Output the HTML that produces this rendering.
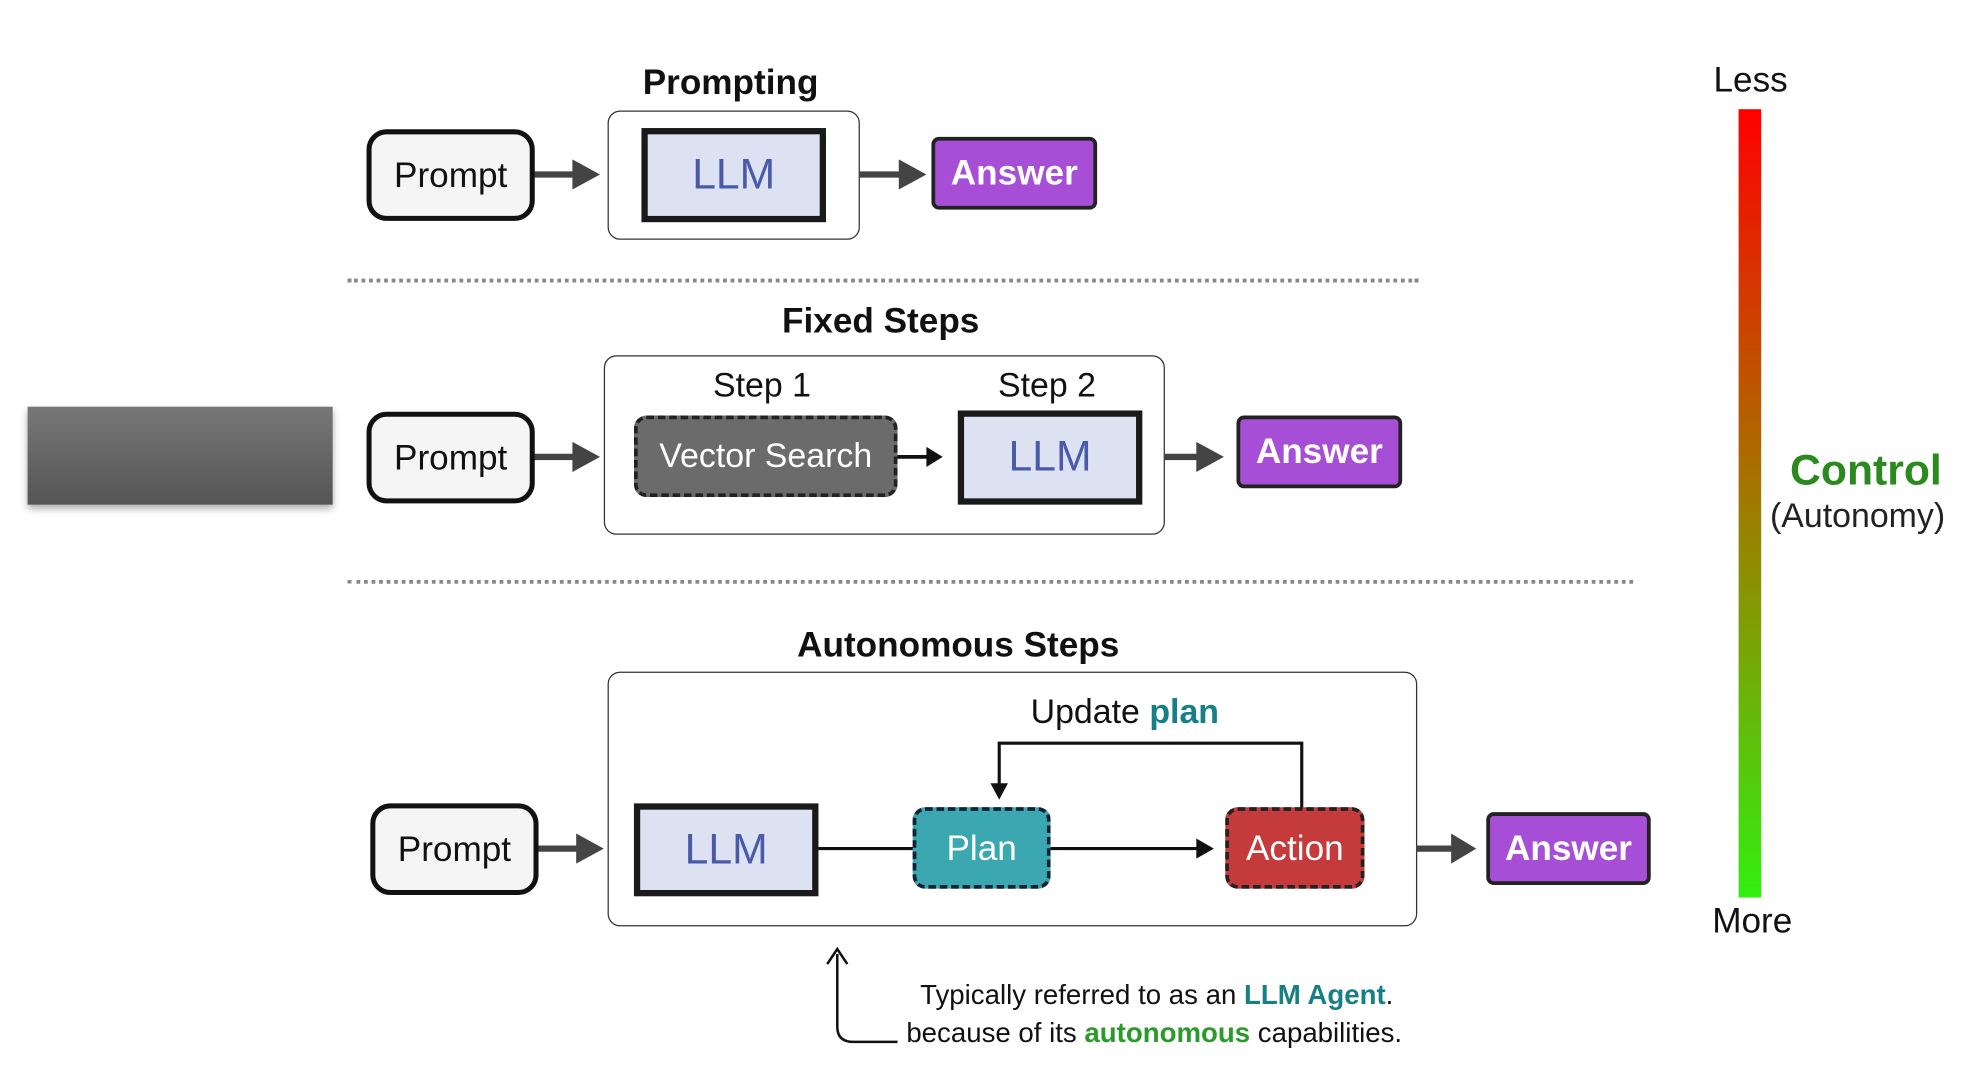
<!DOCTYPE html>
<html><head><meta charset="utf-8"><style>
html,body{margin:0;padding:0;background:#fff;width:1967px;height:1080px;overflow:hidden}
#c{position:absolute;left:0;top:0;width:1567px;height:860px;transform:scale(1.2553);transform-origin:0 0;font-family:"Liberation Sans",sans-serif}
.a{position:absolute;box-sizing:border-box;display:flex;align-items:center;justify-content:center}
.prompt{border:4px solid #111;border-radius:16px;background:#f5f5f5;font-size:28px;color:#111}
.llm{border:5px solid #1a1a1a;background:#dde2f3;color:#4a5aa8;font-size:34px}
.ans{border:3px solid #222;border-radius:6px;background:#a64fd6;color:#fff;font-weight:bold;font-size:28px}
.grp{border:1.5px solid #333;border-radius:10px;background:#fff;z-index:-1}
.t{position:absolute;white-space:nowrap;color:#111}
.dash{position:absolute;border-top:3px dotted #888;height:0}
</style></head><body><div id="c">
<svg width="1567" height="860" style="position:absolute;left:0;top:0">
<g stroke="#444" stroke-width="5" fill="none">
<line x1="425" y1="139" x2="458" y2="139"/><line x1="685" y1="139" x2="718" y2="139"/>
<line x1="425" y1="364" x2="458" y2="364"/><line x1="928" y1="364" x2="955" y2="364"/>
<line x1="428" y1="676" x2="461" y2="676"/><line x1="1128" y1="676" x2="1158" y2="676"/>
</g>
<g fill="#444">
<path d="M456,127 L478,139 L456,151z"/><path d="M716,127 L738,139 L716,151z"/>
<path d="M456,352 L478,364 L456,376z"/><path d="M953,352 L975,364 L953,376z"/>
<path d="M459,664 L481,676 L459,688z"/><path d="M1156,664 L1176,676 L1156,688z"/>
</g>
<line x1="714" y1="364" x2="740" y2="364" stroke="#111" stroke-width="3"/><path d="M738,356 L751,364 L738,372z" fill="#111"/>
<line x1="650" y1="676" x2="730" y2="676" stroke="#111" stroke-width="2.5"/>
<line x1="836" y1="676" x2="955" y2="676" stroke="#111" stroke-width="2.5"/><path d="M953,668 L967,676 L953,684z" fill="#111"/>
<polyline points="1037,644 1037,592 796,592 796,628" fill="none" stroke="#111" stroke-width="2.5"/><path d="M789,624 L796,637 L803,624z" fill="#111"/>
<path d="M667,760 L667,818 Q667,830 680,830 L715,830" fill="none" stroke="#111" stroke-width="2"/>
<path d="M659,768 L667,756 L675,768" fill="none" stroke="#111" stroke-width="2"/>
<defs><linearGradient id="g" x1="0" y1="0" x2="0" y2="1"><stop offset="0" stop-color="#ff0000"/><stop offset="0.5" stop-color="#a07a00"/><stop offset="1" stop-color="#33ee11"/></linearGradient>
<linearGradient id="gr" x1="0" y1="0" x2="0" y2="1"><stop offset="0" stop-color="#777"/><stop offset="1" stop-color="#555"/></linearGradient></defs>
<rect x="1385" y="87" width="18" height="628" fill="url(#g)"/>
<rect x="22" y="324" width="243" height="78" fill="url(#gr)" style="filter:drop-shadow(0 3px 3px rgba(0,0,0,.35))"/>
</svg>
<div class="dash" style="left:277px;top:222px;width:853px"></div>
<div class="dash" style="left:277px;top:462px;width:1024px"></div>
<div class="t" style="left:512px;top:50px;font-size:28px;font-weight:bold">Prompting</div>
<div class="a grp" style="left:484px;top:88px;width:201px;height:103px"></div>
<div class="a prompt" style="left:292px;top:103px;width:134px;height:73px">Prompt</div>
<div class="a llm" style="left:511px;top:102px;width:147px;height:75px">LLM</div>
<div class="a ans" style="left:742px;top:109px;width:132px;height:58px">Answer</div>
<div class="t" style="left:623px;top:240px;font-size:28px;font-weight:bold">Fixed Steps</div>
<div class="a grp" style="left:481px;top:283px;width:447px;height:143px"></div>
<div class="t" style="left:568px;top:292px;font-size:27px">Step 1</div>
<div class="t" style="left:795px;top:292px;font-size:27px">Step 2</div>
<div class="a prompt" style="left:292px;top:328px;width:134px;height:73px">Prompt</div>
<div class="a" style="left:505px;top:331px;width:210px;height:65px;border:3px dashed #222;border-radius:10px;background:#6b6b6b;color:#fff;font-size:27px">Vector Search</div>
<div class="a llm" style="left:763px;top:327px;width:147px;height:75px">LLM</div>
<div class="a ans" style="left:985px;top:331px;width:132px;height:58px">Answer</div>
<div class="t" style="left:635px;top:498px;font-size:28px;font-weight:bold">Autonomous Steps</div>
<div class="a grp" style="left:484px;top:535px;width:645px;height:203px"></div>
<div class="t" style="left:821px;top:552px;font-size:27px">Update <b style="color:#177f86">plan</b></div>
<div class="a prompt" style="left:295px;top:640px;width:134px;height:73px">Prompt</div>
<div class="a llm" style="left:505px;top:640px;width:147px;height:74px">LLM</div>
<div class="a" style="left:727px;top:643px;width:110px;height:65px;border:3px dashed #123;border-radius:10px;background:#3aa7b1;color:#fff;font-size:28px">Plan</div>
<div class="a" style="left:976px;top:643px;width:111px;height:65px;border:3px dashed #222;border-radius:10px;background:#c53b3b;color:#fff;font-size:28px">Action</div>
<div class="a ans" style="left:1184px;top:647px;width:131px;height:58px">Answer</div>
<div class="t" style="left:733px;top:780px;font-size:22px">Typically referred to as an <b style="color:#177f86">LLM Agent</b>.</div>
<div class="t" style="left:722px;top:810px;font-size:22px">because of its <b style="color:#2a9a2a">autonomous</b> capabilities.</div>
<div class="t" style="left:1365px;top:48px;font-size:28px">Less</div>
<div class="t" style="left:1364px;top:718px;font-size:28px">More</div>
<div class="t" style="left:1426px;top:356px;font-size:34px;font-weight:bold;color:#2a8a1e">Control</div>
<div class="t" style="left:1410px;top:396px;font-size:27px;color:#222">(Autonomy)</div>
</div></body></html>
